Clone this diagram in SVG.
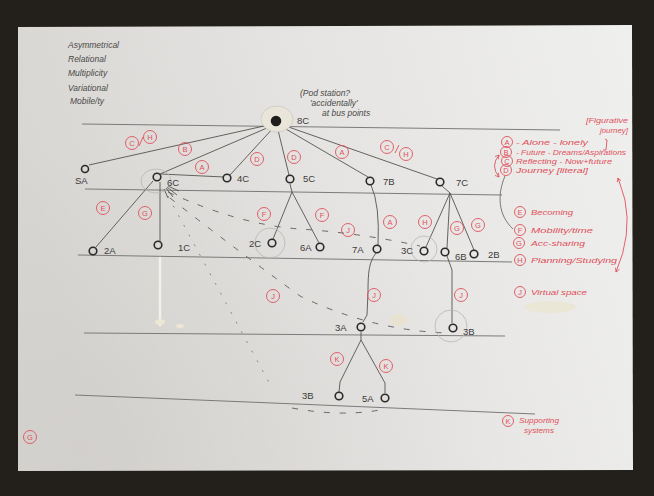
<svg xmlns="http://www.w3.org/2000/svg" width="654" height="496" viewBox="0 0 654 496">
  <defs>
    <linearGradient id="paper" x1="0" y1="0.3" x2="1" y2="0.1">
      <stop offset="0" stop-color="#d8d6d3"/>
      <stop offset="0.45" stop-color="#e4e3e1"/>
      <stop offset="1" stop-color="#efefee"/>
    </linearGradient>
    <radialGradient id="shade" cx="0.1" cy="0.95" r="0.7">
      <stop offset="0" stop-color="#c4c1bd" stop-opacity="0.3"/>
      <stop offset="1" stop-color="#c4c1bd" stop-opacity="0"/>
    </radialGradient>
    <marker id="redTip" viewBox="0 0 10 10" refX="8" refY="5" markerWidth="6" markerHeight="6" orient="auto-start-reverse">
      <path d="M1,1 L8,5 L1,9" fill="none" stroke="#e0505b" stroke-width="1.4"/>
    </marker>
    <style>
      .guide { fill: none; stroke: #7c7b79; stroke-width: 1; }
      .edge { fill: none; stroke: #55534f; stroke-width: 0.9; }
      .dash { fill: none; stroke: #6a6865; stroke-width: 1; stroke-dasharray: 6 10; }
      .dot  { fill: none; stroke: #8a8885; stroke-width: 1; stroke-dasharray: 2 9; }
      .halo { fill: none; stroke: #b8b6b2; stroke-width: 0.8; }
      .node { fill: none; stroke: #2c2b29; stroke-width: 1.6; }
      .nlabel { font-family: "Liberation Sans", Arial, sans-serif; font-size: 9.5px; fill: #3c3b39; }
      .note { font-family: "Liberation Sans", Arial, sans-serif; font-size: 8.5px; font-style: italic; fill: #4a4946; }
      .rc { fill: none; stroke: #e0505b; stroke-width: 0.9; }
      .rl { font-family: "Liberation Sans", Arial, sans-serif; font-size: 7.5px; fill: #e0505b; text-anchor: middle; }
      .leg { font-family: "Liberation Sans", Arial, sans-serif; font-size: 8px; font-style: italic; fill: #e0505b; }
      .rline { fill: none; stroke: #e0505b; stroke-width: 0.9; }
    </style>
  </defs>

  <!-- table surface and sheet of paper -->
  <rect x="0" y="0" width="654" height="496" fill="#231f1b"/>
  <polygon points="18,27 632,25 633,470 18,471" fill="url(#paper)"/>
  <polygon points="18,27 632,25 633,470 18,471" fill="url(#shade)"/>

  <!-- stains and rubbed-out marks -->
  <g id="stains">
    <path d="M160,256 L160,326" stroke="#f3f0e8" stroke-width="2.5" fill="none"/>
    <ellipse cx="160" cy="322" rx="5" ry="3" fill="#ece6d4"/>
    <ellipse cx="180" cy="326" rx="4" ry="2" fill="#ece6d4"/>
    <ellipse cx="398" cy="320" rx="9" ry="6" fill="#e9e2cc" opacity="0.8"/>
    <ellipse cx="550" cy="307" rx="26" ry="6" fill="#ebe6cf" opacity="0.7"/>
  </g>

  <!-- ruled level lines -->
  <g id="levels">
    <path class="guide" d="M82,124 L560,130"/>
    <path class="guide" d="M85,189 L502,195"/>
    <path class="guide" d="M78,255 L512,262"/>
    <path class="guide" d="M84,333 L505,336"/>
    <path class="guide" d="M75,395 Q300,404 535,414"/>
  </g>

  <!-- connectors -->
  <g id="connectors">
    <path class="edge" d="M273,124 L89,165"/>
    <path class="edge" d="M274,125 L160,174"/>
    <path class="edge" d="M275,126 L230,175"/>
    <path class="edge" d="M277,126 L289,175"/>
    <path class="edge" d="M279,125 L368,177"/>
    <path class="edge" d="M280,124 L437,179"/>
    <path class="edge" d="M161,174 L224,177"/>
    <path class="edge" d="M153,181 L96,247"/>
    <path class="edge" d="M160,182 L160,241"/>
    <path class="edge" d="M290,184 L292,192 L273,239"/>
    <path class="edge" d="M292,192 L319,243"/>
    <path class="edge" d="M371,185 Q380,205 378,245"/>
    <path class="edge" d="M442,186 L450,193 L426,247"/>
    <path class="edge" d="M450,193 L447,248"/>
    <path class="edge" d="M450,193 L474,250"/>
    <path class="edge" d="M376,253 C369,262 368,272 368,292 L367,315 L363,322"/>
    <path class="edge" d="M447,256 L452,270 L452,323"/>
    <path class="edge" d="M361,332 L361,340 L340,382 L339,392"/>
    <path class="edge" d="M361,340 L385,383 L385,393"/>
    <!-- dashed links out of 6C -->
    <path class="dash" d="M168,192 Q240,225 300,229 T420,246"/>
    <path class="dash" d="M170,198 Q230,245 300,296 Q370,330 446,333"/>
    <path class="dot" d="M168,196 L272,388"/>
    <path class="dash" d="M292,408 Q340,417 380,410"/>
    <!-- marks radiating under 6C -->
    <path class="edge" d="M164,189 L168,198 M166,188 L173,197 M167,187 L177,195 M168,186 L179,191"/>
  </g>

  <!-- nodes -->
  <g id="node-8C">
    <ellipse cx="277" cy="119" rx="16" ry="13" fill="#e9e5d8" stroke="#c6c4bf" stroke-width="0.7"/>
    <circle cx="276" cy="121" r="4.5" fill="#1f1e1c" stroke="#1f1e1c" stroke-width="1.5"/>
    <text class="nlabel" x="297" y="124">8C</text>
  </g>
  <g id="node-SA"><circle class="node" cx="85" cy="169" r="3.5"/><text class="nlabel" x="75" y="184">SA</text></g>
  <g id="node-6C"><ellipse class="halo" cx="156" cy="181" rx="15" ry="12"/><circle class="node" cx="157" cy="177" r="3.8"/><text class="nlabel" x="167" y="186">6C</text></g>
  <g id="node-4C"><circle class="node" cx="227" cy="178" r="3.8"/><text class="nlabel" x="237" y="182">4C</text></g>
  <g id="node-5C"><circle class="node" cx="290" cy="179" r="3.8"/><text class="nlabel" x="303" y="182">5C</text></g>
  <g id="node-7B"><circle class="node" cx="370" cy="181" r="3.8"/><text class="nlabel" x="383" y="185">7B</text></g>
  <g id="node-7C"><circle class="node" cx="440" cy="182" r="3.8"/><text class="nlabel" x="456" y="186">7C</text></g>
  <g id="node-2A"><circle class="node" cx="93" cy="251" r="3.8"/><text class="nlabel" x="104" y="254">2A</text></g>
  <g id="node-1C"><circle class="node" cx="158" cy="245" r="3.8"/><text class="nlabel" x="178" y="251">1C</text></g>
  <g id="node-2C"><circle class="halo" cx="270" cy="243" r="15"/><circle class="node" cx="272" cy="243" r="3.8"/><text class="nlabel" x="249" y="247">2C</text></g>
  <g id="node-6A"><circle class="node" cx="320" cy="247" r="3.8"/><text class="nlabel" x="300" y="251">6A</text></g>
  <g id="node-7A"><circle class="node" cx="377" cy="249" r="3.8"/><text class="nlabel" x="352" y="253">7A</text></g>
  <g id="node-3C"><circle class="halo" cx="424" cy="249" r="13"/><circle class="node" cx="424" cy="251" r="3.8"/><text class="nlabel" x="401" y="254">3C</text></g>
  <g id="node-6B"><circle class="node" cx="445" cy="252" r="3.8"/><text class="nlabel" x="455" y="260">6B</text></g>
  <g id="node-2B"><circle class="node" cx="474" cy="254" r="3.8"/><text class="nlabel" x="488" y="258">2B</text></g>
  <g id="node-3A"><circle class="node" cx="361" cy="327" r="3.8"/><text class="nlabel" x="335" y="331">3A</text></g>
  <g id="node-3B-right"><circle class="halo" cx="451" cy="326" r="16"/><circle class="node" cx="453" cy="328" r="3.8"/><text class="nlabel" x="463" y="335">3B</text></g>
  <g id="node-3B-low"><circle class="node" cx="339" cy="396" r="3.8"/><text class="nlabel" x="302" y="399">3B</text></g>
  <g id="node-5A"><circle class="node" cx="385" cy="398" r="3.8"/><text class="nlabel" x="362" y="402">5A</text></g>

  <!-- pencil notes -->
  <g id="notes">
    <text class="note" x="68" y="48">Asymmetrical</text>
    <text class="note" x="68" y="62">Relational</text>
    <text class="note" x="68" y="76">Multiplicity</text>
    <text class="note" x="68" y="91">Variational</text>
    <text class="note" x="70" y="104">Mobile/ty</text>
    <text class="note" x="300" y="96" font-size="7.5">(Pod station?</text>
    <text class="note" x="310" y="106" font-size="7.5">'accidentally'</text>
    <text class="note" x="322" y="116" font-size="7.5">at bus points</text>
    <path d="M505,176 C497,195 498,215 513,229" fill="none" stroke="#6e6c69" stroke-width="0.9"/>
  </g>

  <!-- circled letters on the connectors -->
  <g id="edge-labels">
    <circle class="rc" cx="132" cy="143" r="6.5"/><text class="rl" x="132" y="145.7">C</text>
    <path class="rline" d="M139,146 L143,137"/>
    <circle class="rc" cx="150" cy="137" r="6.5"/><text class="rl" x="150" y="139.7">H</text>
    <circle class="rc" cx="185" cy="149" r="6.5"/><text class="rl" x="185" y="151.7">B</text>
    <circle class="rc" cx="202" cy="167" r="6.5"/><text class="rl" x="202" y="169.7">A</text>
    <circle class="rc" cx="257" cy="159" r="6.5"/><text class="rl" x="257" y="161.7">D</text>
    <circle class="rc" cx="294" cy="157" r="6.5"/><text class="rl" x="294" y="159.7">D</text>
    <circle class="rc" cx="342" cy="152" r="6.5"/><text class="rl" x="342" y="154.7">A</text>
    <circle class="rc" cx="387" cy="147" r="6.5"/><text class="rl" x="387" y="149.7">C</text>
    <path class="rline" d="M395,153 L399,145"/>
    <circle class="rc" cx="406" cy="154" r="6.5"/><text class="rl" x="406" y="156.7">H</text>
    <circle class="rc" cx="103" cy="208" r="6.5"/><text class="rl" x="103" y="210.7">E</text>
    <circle class="rc" cx="145" cy="213" r="6.5"/><text class="rl" x="145" y="215.7">G</text>
    <circle class="rc" cx="264" cy="214" r="6.5"/><text class="rl" x="264" y="216.7">F</text>
    <circle class="rc" cx="322" cy="215" r="6.5"/><text class="rl" x="322" y="217.7">F</text>
    <circle class="rc" cx="348" cy="230" r="6.5"/><text class="rl" x="348" y="232.7">J</text>
    <circle class="rc" cx="390" cy="222" r="6.5"/><text class="rl" x="390" y="224.7">A</text>
    <circle class="rc" cx="425" cy="222" r="6.5"/><text class="rl" x="425" y="224.7">H</text>
    <circle class="rc" cx="457" cy="228" r="6.5"/><text class="rl" x="457" y="230.7">G</text>
    <circle class="rc" cx="478" cy="225" r="6.5"/><text class="rl" x="478" y="227.7">G</text>
    <circle class="rc" cx="273" cy="296" r="6.5"/><text class="rl" x="273" y="298.7">J</text>
    <circle class="rc" cx="374" cy="295" r="6.5"/><text class="rl" x="374" y="297.7">J</text>
    <circle class="rc" cx="461" cy="295" r="6.5"/><text class="rl" x="461" y="297.7">J</text>
    <circle class="rc" cx="337" cy="359" r="6.5"/><text class="rl" x="337" y="361.7">K</text>
    <circle class="rc" cx="386" cy="366" r="6.5"/><text class="rl" x="386" y="368.7">K</text>
    <circle class="rc" cx="30" cy="437" r="6.5"/><text class="rl" x="30" y="439.7">G</text>
  </g>

  <!-- key -->
  <g id="legend">
    <text class="leg" x="586" y="123" textLength="42" lengthAdjust="spacingAndGlyphs">[Figurative</text>
    <text class="leg" x="600" y="133" textLength="28" lengthAdjust="spacingAndGlyphs">journey]</text>
    <circle class="rc" cx="507" cy="142" r="5.5"/><text class="rl" x="507" y="144.5">A</text>
    <text class="leg" x="516" y="145" textLength="72" lengthAdjust="spacingAndGlyphs">- Alone - lonely</text>
    <path class="rline" d="M605,139 L607,140 L606,150 L603,150"/>
    <circle class="rc" cx="506" cy="152" r="5.5"/><text class="rl" x="506" y="154.5">B</text>
    <text class="leg" x="516" y="155" textLength="110" lengthAdjust="spacingAndGlyphs">- Future - Dreams/Aspirations</text>
    <circle class="rc" cx="507" cy="161" r="5.5"/><text class="rl" x="507" y="163.5">C</text>
    <text class="leg" x="516" y="164" textLength="96" lengthAdjust="spacingAndGlyphs">Reflecting - Now+future</text>
    <circle class="rc" cx="506" cy="170" r="5.5"/><text class="rl" x="506" y="172.5">D</text>
    <text class="leg" x="516" y="173" textLength="72" lengthAdjust="spacingAndGlyphs">Journey [literal]</text>
    <path class="rline" d="M499,155 Q490,166 499,177" marker-start="url(#redTip)" marker-end="url(#redTip)"/>
    <path class="rline" d="M618,178 Q622,190 625,200 Q632,235 616,272" marker-start="url(#redTip)" marker-end="url(#redTip)"/>

    <circle class="rc" cx="520" cy="212" r="5.5"/><text class="rl" x="520" y="214.5">E</text>
    <text class="leg" x="531" y="215" textLength="42" lengthAdjust="spacingAndGlyphs">Becoming</text>
    <circle class="rc" cx="520" cy="230" r="5.5"/><text class="rl" x="520" y="232.5">F</text>
    <text class="leg" x="531" y="233" textLength="62" lengthAdjust="spacingAndGlyphs">Mobility/time</text>
    <circle class="rc" cx="519" cy="243" r="5.5"/><text class="rl" x="519" y="245.5">G</text>
    <text class="leg" x="531" y="246" textLength="54" lengthAdjust="spacingAndGlyphs">Acc-sharing</text>
    <circle class="rc" cx="520" cy="260" r="5.5"/><text class="rl" x="520" y="262.5">H</text>
    <text class="leg" x="531" y="263" textLength="86" lengthAdjust="spacingAndGlyphs">Planning/Studying</text>
    <circle class="rc" cx="520" cy="292" r="5.5"/><text class="rl" x="520" y="294.5">J</text>
    <text class="leg" x="531" y="295" textLength="56" lengthAdjust="spacingAndGlyphs">Virtual space</text>
    <circle class="rc" cx="508" cy="421" r="5.5"/><text class="rl" x="508" y="423.5">K</text>
    <text class="leg" x="519" y="423" textLength="40" lengthAdjust="spacingAndGlyphs">Supporting</text>
    <text class="leg" x="524" y="433" textLength="30" lengthAdjust="spacingAndGlyphs">systems</text>
  </g>
</svg>
